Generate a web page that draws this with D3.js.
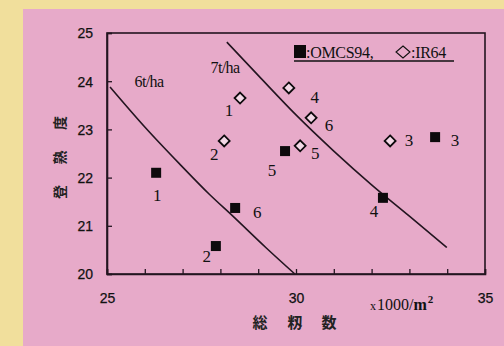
<!DOCTYPE html>
<html><head><meta charset="utf-8">
<script src="https://cdn.jsdelivr.net/npm/d3@7"></script>
<style>
html,body{margin:0;padding:0;background:#f1df9c;}
svg{display:block;}
</style></head>
<body>
<svg id="c" width="504" height="346"></svg>
<script>
// ---- data ----
const omcsIds = ["1","2","6","5","4","3"];
const omcsX = [26.30, 27.88, 28.39, 29.71, 32.30, 33.68];
const omcsY = [22.10, 20.58, 21.37, 22.55, 21.58, 22.84];
const irIds = ["1","2","4","6","5","3"];
const irX = [28.52, 28.10, 29.81, 30.40, 30.11, 32.49];
const irY = [23.65, 22.76, 23.86, 23.24, 22.66, 22.76];
const line6X = [25.08, 26.0, 26.9, 27.7, 28.33, 29.2, 29.97];
const line6Y = [23.88, 23.05, 22.3, 21.66, 21.2, 20.55, 20.0];
const line7X = [28.17, 29.0, 30.0, 31.0, 32.0, 33.0, 33.99];
const line7Y = [24.81, 24.12, 23.3, 22.55, 21.85, 21.2, 20.55];
const xTicks = [25,26,27,28,29,30,31,32,33,34,35];
const xTickLabels = ["25","30","35"];
const yTicks = [20,21,22,23,24,25];
const lineNames = ["6t/ha","7t/ha"];
const legendNames = [":OMCS94,", ":IR64"];
const yTitle = "登熟度";
const xTitle = ["総","籾","数"];
const xUnit = "x1000/m";

// ---- layout (not data) ----
const omcsLabelOff = [[1,22],[-9,10],[22,4],[-13,19],[-9,13],[20,3]];
const irLabelOff = [[-11,12],[-10,13],[26,9],[18,7],[15,7],[19,-1]];

const svg = d3.select("#c");
const ink = "#231520";
svg.append("rect").attr("x",0).attr("y",0).attr("width",504).attr("height",346).attr("fill","#f1df9c");
svg.append("rect").attr("x",23).attr("y",9).attr("width",481).attr("height",337).attr("fill","#e7aac9");

const x = d3.scaleLinear().domain([25,35]).range([107,485]);
const y = d3.scaleLinear().domain([20,25]).range([274,33]);

// frame
svg.append("rect").attr("x",x(25)).attr("y",y(25)).attr("width",x(35)-x(25)).attr("height",y(20)-y(25))
  .attr("fill","none").attr("stroke",ink).attr("stroke-width",1.6);

// axes
const ax = svg.append("g").attr("transform",`translate(0,${y(20)})`)
  .call(d3.axisBottom(x).tickValues(xTicks).tickSize(-5).tickPadding(19)
    .tickFormat(d => xTickLabels.includes(String(d)) ? String(d) : ""));
const ay = svg.append("g").attr("transform",`translate(${x(25)},0)`)
  .call(d3.axisLeft(y).tickValues(yTicks).tickSize(-5).tickPadding(14).tickFormat(d3.format("d")));
[ax,ay].forEach(g=>{
  g.select(".domain").attr("stroke",ink).attr("stroke-width",1.6);
  g.selectAll(".tick line").attr("stroke",ink).attr("stroke-width",1.3);
  g.selectAll(".tick text").attr("fill","#111").attr("font-family","Liberation Sans, Arial, sans-serif")
    .attr("font-size",14).attr("stroke","#111").attr("stroke-width",0.25);
});
ay.selectAll(".tick text").attr("dy","0.35em");

// yield lines
const lg = d3.line().x(d=>x(d[0])).y(d=>y(d[1])).curve(d3.curveMonotoneX);
[[line6X,line6Y],[line7X,line7Y]].forEach(([xs,ys])=>{
  svg.append("path").attr("d", lg(xs.map((v,i)=>[v,ys[i]])))
    .attr("fill","none").attr("stroke",ink).attr("stroke-width",1.6);
});
const serif = "Liberation Serif, Times New Roman, serif";
svg.append("text").attr("x",149).attr("y",87).attr("text-anchor","middle").attr("font-family",serif)
  .attr("font-size",16).attr("fill","#111").attr("letter-spacing","-0.6").text(lineNames[0]);
svg.append("text").attr("x",225).attr("y",73).attr("text-anchor","middle").attr("font-family",serif)
  .attr("font-size",16).attr("fill","#111").attr("letter-spacing","-0.6").text(lineNames[1]);

// points
const sq = 10;
omcsX.forEach((v,i)=>{
  const cx=x(v), cy=y(omcsY[i]);
  svg.append("rect").attr("x",cx-sq/2).attr("y",cy-sq/2).attr("width",sq).attr("height",sq).attr("fill","#0d0a0c");
  svg.append("text").attr("x",cx+omcsLabelOff[i][0]).attr("y",cy+omcsLabelOff[i][1]).attr("dy","0.35em")
    .attr("text-anchor","middle").attr("font-family",serif).attr("font-size",17).attr("fill","#111").text(omcsIds[i]);
});
const dm = 5.5;
const diamond = (cx,cy)=>`M${cx},${cy-dm}L${cx+dm},${cy}L${cx},${cy+dm}L${cx-dm},${cy}Z`;
irX.forEach((v,i)=>{
  const cx=x(v), cy=y(irY[i]);
  svg.append("path").attr("d",diamond(cx,cy)).attr("fill","#f3d8e6").attr("stroke","#0d0a0c").attr("stroke-width",1.8);
  svg.append("text").attr("x",cx+irLabelOff[i][0]).attr("y",cy+irLabelOff[i][1]).attr("dy","0.35em")
    .attr("text-anchor","middle").attr("font-family",serif).attr("font-size",17).attr("fill","#111").text(irIds[i]);
});

// legend
svg.append("rect").attr("x",294).attr("y",45).attr("width",12).attr("height",13).attr("fill","#0d0a0c");
svg.append("text").attr("x",306).attr("y",58).attr("font-family",serif).attr("font-size",16).attr("fill","#111")
  .attr("letter-spacing","-0.3").text(legendNames[0]);
const lx = 403, ly = 52;
svg.append("path").attr("d",`M${lx},${ly-6}L${lx+7},${ly}L${lx},${ly+6}L${lx-7},${ly}Z`).attr("fill","none").attr("stroke","#111").attr("stroke-width",1.1);
svg.append("text").attr("x",411).attr("y",58).attr("font-family",serif).attr("font-size",16).attr("fill","#111")
  .attr("letter-spacing","-0.3").text(legendNames[1]);
svg.append("line").attr("x1",294).attr("x2",454).attr("y1",61).attr("y2",61).attr("stroke","#111").attr("stroke-width",1.4);

// titles
const cjk = "Noto Sans CJK JP, sans-serif";
[...yTitle].forEach((ch,i)=>{
  const cy = 192 - i*34.5;
  svg.append("text").attr("transform",`translate(60,${cy}) rotate(-90)`).attr("text-anchor","middle").attr("dy","0.35em")
    .attr("font-family",cjk).attr("font-size",14).attr("font-weight","bold").attr("fill","#222").text(ch);
});
const xtc = [260,295,329];
xTitle.forEach((ch,i)=>{
  svg.append("text").attr("x",xtc[i]).attr("y",323).attr("dy","0.35em").attr("text-anchor","middle")
    .attr("font-family",cjk).attr("font-size",15).attr("font-weight","bold").attr("fill","#222").text(ch);
});
const ut = svg.append("text").attr("x",370).attr("y",310).attr("font-family",serif).attr("font-size",16).attr("fill","#111");
ut.append("tspan").attr("font-size",12).text("x");
ut.append("tspan").attr("dx",1).text(xUnit.slice(1,6));
ut.append("tspan").attr("font-weight","bold").text(xUnit.slice(6));
ut.append("tspan").attr("font-size",11).attr("font-weight","bold").attr("dx",1).attr("dy",-7).text("2");
</script>
</body></html>
